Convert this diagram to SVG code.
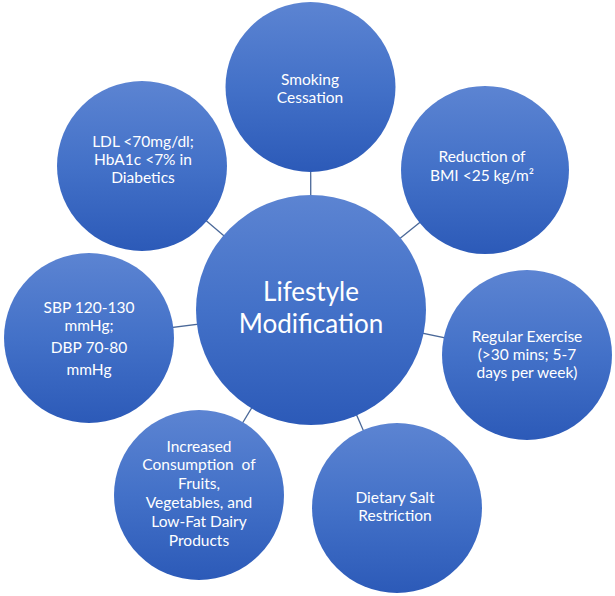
<svg xmlns="http://www.w3.org/2000/svg" width="615" height="596" viewBox="0 0 615 596">
<defs>
<linearGradient id="g" x1="0" y1="0" x2="0" y2="1">
<stop offset="0" stop-color="#5c84d2"/>
<stop offset="0.5" stop-color="#4371c8"/>
<stop offset="1" stop-color="#2c5ab8"/>
</linearGradient>
<style>
.n{fill:url(#g);}
.t{font-family:Lato,"Liberation Sans",sans-serif;font-size:15.5px;fill:#ffffff;text-anchor:middle;}
.big{font-size:26px;}
.c{stroke:#4a6898;stroke-width:1.3;fill:none;}
</style>
</defs>
<rect width="615" height="596" fill="#ffffff"/>
<g id="connectors">
<line class="c" x1="311" y1="310" x2="310.5" y2="87"/>
<line class="c" x1="311" y1="310" x2="485" y2="170"/>
<line class="c" x1="311" y1="310" x2="527" y2="355"/>
<line class="c" x1="311" y1="310" x2="397" y2="508"/>
<line class="c" x1="311" y1="310" x2="199" y2="495"/>
<line class="c" x1="311" y1="310" x2="89" y2="338"/>
<line class="c" x1="311" y1="310" x2="142" y2="166"/>
</g>
<g id="smoking">
<circle class="n" cx="310.5" cy="87" r="85"/>
<text class="t" x="310" y="85">Smoking</text>
<text class="t" x="310" y="103">Cessation</text>
</g>
<g id="bmi">
<circle class="n" cx="485" cy="170" r="84"/>
<text class="t" x="482" y="162">Reduction of</text>
<text class="t" x="482" y="181">BMI &lt;25 kg/m²</text>
</g>
<g id="exercise">
<circle class="n" cx="527" cy="355" r="85"/>
<text class="t" x="527" y="342">Regular Exercise</text>
<text class="t" x="527" y="360">(&gt;30 mins; 5-7</text>
<text class="t" x="527" y="378">days per week)</text>
</g>
<g id="salt">
<circle class="n" cx="397" cy="508" r="85"/>
<text class="t" x="395" y="503">Dietary Salt</text>
<text class="t" x="395" y="521">Restriction</text>
</g>
<g id="fruits">
<circle class="n" cx="199" cy="495" r="85"/>
<text class="t" x="199" y="452">Increased</text>
<text class="t" x="199" y="470">Consumption&#160; of</text>
<text class="t" x="199" y="489">Fruits,</text>
<text class="t" x="199" y="508">Vegetables, and</text>
<text class="t" x="199" y="527">Low-Fat Dairy</text>
<text class="t" x="199" y="546">Products</text>
</g>
<g id="bp">
<circle class="n" cx="89" cy="338" r="85"/>
<text class="t" x="89" y="313">SBP 120-130</text>
<text class="t" x="89" y="331">mmHg;</text>
<text class="t" x="89" y="353">DBP 70-80</text>
<text class="t" x="89" y="375">mmHg</text>
</g>
<g id="ldl">
<circle class="n" cx="142" cy="166" r="85"/>
<text class="t" x="143" y="147">LDL &lt;70mg/dl;</text>
<text class="t" x="143" y="165">HbA1c &lt;7% in</text>
<text class="t" x="143" y="183">Diabetics</text>
</g>
<g id="main">
<circle class="n" cx="311" cy="310" r="115"/>
<text class="t big" x="311" y="301">Lifestyle</text>
<text class="t big" x="311" y="333">Modification</text>
</g>
</svg>
